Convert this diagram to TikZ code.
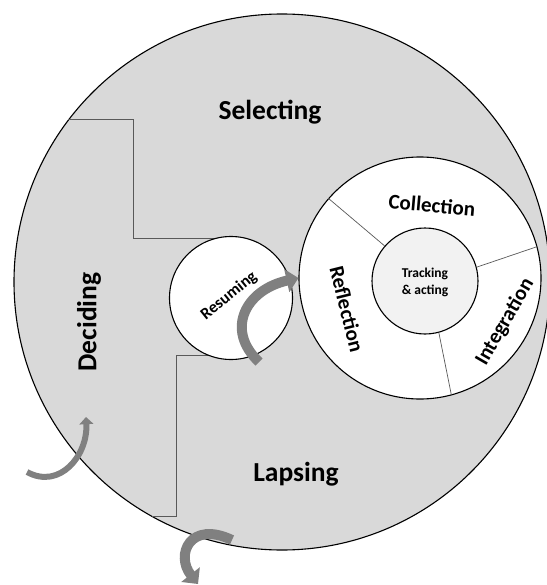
\documentclass[tikz,border=0pt]{standalone}
\usepackage{fontspec}
\setmainfont{Carlito}
\usetikzlibrary{arrows.meta}
\definecolor{outerfill}{RGB}{217,217,217}
\definecolor{trackfill}{RGB}{242,242,242}
\definecolor{stairline}{RGB}{89,89,89}
\definecolor{arrowgray}{RGB}{128,128,128}

\begin{document}
\begin{tikzpicture}[x=1pt,y=-1pt,
  disc/.style={circle,draw,line width=1.1pt,inner sep=0pt},
  stair/.style={draw=stairline,line width=0.8pt},
  divider/.style={draw=stairline,line width=0.7pt},
  phase/.style={font=\fontsize{27.5}{28}\selectfont\bfseries},
  part/.style={font=\fontsize{21}{21}\selectfont\bfseries},
  curvearrow/.style={draw=arrowgray,line width=#1,-{Triangle[width=2.3*#1,length=1.2*#1]}}]
\useasboundingbox (0,0) rectangle (546,585);

\node[disc,fill=outerfill,minimum size=536pt] at (282,282) (outer) {};

\draw[stair] (68,119) -- (133,119) -- (133,238) -- (231,238);
\draw[stair] (152,516) -- (176,516) -- (176,355) -- (231,355);

\node[disc,fill=white,minimum size=123pt] at (231,298) (resume) {};
\node[disc,fill=white,minimum size=242pt] at (420,278) (ring) {};
\node[disc,fill=trackfill,minimum size=106pt] at (425,281) (track) {};

\draw[divider] (track.139) -- (ring.139);
\draw[divider] (track.15) -- (ring.15);
\draw[divider] (track.-75) -- (ring.-75);

\node[phase] at (270,112) (select) {Selecting};
\node[phase,rotate=90] at (89,322) (decide) {Deciding};
\node[phase] at (296,474) (lapse) {Lapsing};

\node[part,rotate=-5] at (432,205) (collect) {Collection};
\node[part,rotate=-76] at (347,309) (reflect) {Reflection};
\node[part,rotate=60] at (505,322) (integrate) {Integration};
\node[font=\fontsize{16.5}{16.5}\selectfont\bfseries,rotate=39] at (229,296) (resumetxt) {Resuming};
\node[font=\fontsize{13.5}{17}\selectfont\bfseries,align=center] at (425,282) (tracktxt) {Tracking\\\& acting};

\coordinate (a1) at (259,362);
\coordinate (a2) at (27,472);
\coordinate (a3) at (232,540);
\draw[curvearrow=10pt] (a1) .. controls (225,330) and (245,290) .. (ring.west);
\draw[curvearrow=6pt] (a2) .. controls (60,490) and (88,455) .. (86,417);
\draw[curvearrow=10pt] (a3) .. controls (190,520) and (175,555) .. (198,584);
\end{tikzpicture}
\end{document}
